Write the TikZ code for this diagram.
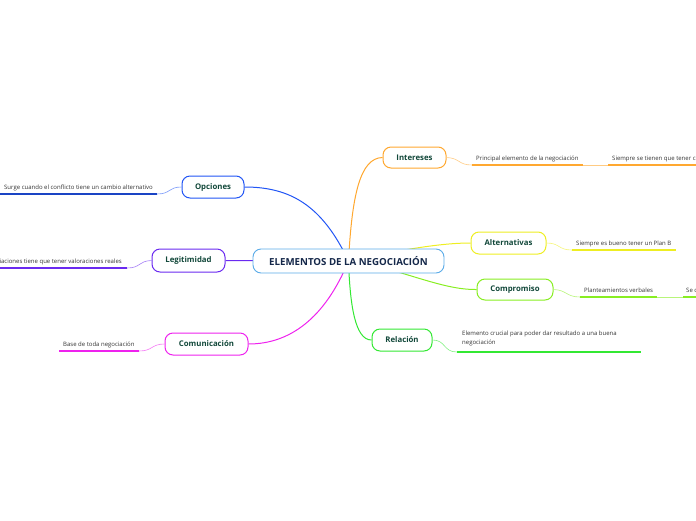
\documentclass[tikz,border=0pt]{standalone}
\usepackage{fontspec}
\setmainfont{Open Sans}
\usetikzlibrary{backgrounds}
\definecolor{cblue}{HTML}{2155F5}
\definecolor{cpurple}{HTML}{6A2AF0}
\definecolor{cmag}{HTML}{EE22EE}
\definecolor{corange}{HTML}{FFA830}
\definecolor{cyellow}{HTML}{EEEE22}
\definecolor{clime}{HTML}{88EE22}
\definecolor{cgreen}{HTML}{33E833}
\definecolor{ccenter}{HTML}{5AABE8}
\definecolor{btext}{HTML}{12483A}
\definecolor{ctext}{HTML}{15284A}
\definecolor{ltext}{HTML}{333333}
\tikzset{
  x=1pt,y=-1pt,
  centerbox/.style={draw=ccenter,line width=0.9pt,rounded corners=8pt,fill=white,minimum width=191pt,minimum height=24pt,inner sep=0pt,text=ctext,font=\fontsize{9.7}{11}\selectfont\bfseries},
  branch/.style={draw=#1,line width=1pt,rounded corners=8pt,fill=white,minimum height=22pt,inner sep=0pt,text=btext,font=\fontsize{7.8}{9}\selectfont\bfseries},
  leaf/.style={anchor=base west,inner sep=0pt,text=ltext,font=\fontsize{6}{7}\selectfont},
  conn/.style={draw=#1,line width=1pt},
  lconn/.style={draw=#1!60,line width=0.6pt},
  uline/.style={draw=#1,line width=1.4pt}
}
\begin{document}
\begin{tikzpicture}
\useasboundingbox (0,0) rectangle (696,520);
\clip (0,0) rectangle (696,520);
% central and branch nodes
\node[centerbox] (ctr) at (348.5,261) {ELEMENTOS DE LA NEGOCIACIÓN};
\node[branch=cblue,minimum width=62pt] (opc) at (213,187) {Opciones};
\node[branch=cpurple,minimum width=73pt,minimum height=23pt] (leg) at (188.5,260.5) {Legitimidad};
\node[branch=cmag,minimum width=83pt] (com) at (206.5,344) {Comunicación};
\node[branch=corange,minimum width=63pt,minimum height=21pt] (int) at (414.5,157.5) {Intereses};
\node[branch=cyellow,minimum width=75pt] (alt) at (508.5,243) {Alternativas};
\node[branch=clime,minimum width=76pt,minimum height=21pt] (cmp) at (515,289.5) {Compromiso};
\node[branch=cgreen,minimum width=60pt] (rel) at (402,340) {Relación};
% leaf texts
\node[leaf] (l1) at (4,189) {Surge cuando el conflicto tiene un cambio alternativo};
\node[leaf,anchor=base east] (l2) at (122,263) {Las negociaciones tiene que tener valoraciones reales};
\node[leaf] (l3) at (63,346) {Base de toda negociación};
\node[leaf] (l4) at (476,160) {Principal elemento de la negociación};
\node[leaf] (l5) at (612,160) {Siempre se tienen que tener claro};
\node[leaf] (l6) at (576,245) {Siempre es bueno tener un Plan B};
\node[leaf] (l7) at (584,292) {Planteamientos verbales};
\node[leaf] (l8) at (686,292) {Se cumplen};
\node[leaf,align=left,anchor=north west,font=\fontsize{6}{9}\selectfont] (l9) at (462,331) {Elemento crucial para poder dar resultado a una buena\\negociación};
% underline end points
\coordinate (u1a) at (157,194); \coordinate (u1b) at (0,194);
\coordinate (u2a) at (127,268); \coordinate (u2b) at (0,268);
\coordinate (u3a) at (139,351); \coordinate (u3b) at (59,351);
\coordinate (u4a) at (472,165); \coordinate (u4b) at (583,165);
\coordinate (u5a) at (608,165); \coordinate (u5b) at (696,165);
\coordinate (u6a) at (572,250); \coordinate (u6b) at (676,250);
\coordinate (u7a) at (580,297); \coordinate (u7b) at (657,297);
\coordinate (u8a) at (683,297); \coordinate (u8b) at (696,297);
\coordinate (u9a) at (457,352); \coordinate (u9b) at (641,352);
\begin{scope}[on background layer]
\draw[conn=cblue] (ctr.center) .. controls (322,205) and (290,187) .. (opc.east);
\draw[conn=cpurple] (ctr.center) -- (leg.east);
\draw[conn=cmag] (ctr.center) .. controls (325,318) and (290,344) .. (com.east);
\draw[conn=corange] (ctr.center) .. controls (352,195) and (360,158) .. (int.west);
\draw[conn=cyellow] (ctr.center) .. controls (400,250) and (440,243) .. (alt.west);
\draw[conn=clime] (ctr.center) .. controls (400,268) and (440,290) .. (cmp.west);
\draw[conn=cgreen] (ctr.center) .. controls (350,305) and (355,340) .. (rel.west);
\end{scope}
% leaf connectors
\draw[lconn=cblue] (opc.west) .. controls (168,187) and (171,194) .. (u1a);
\draw[uline=cblue!80!black] (u1a) -- (u1b);
\draw[lconn=cpurple] (leg.west) .. controls (138,261) and (141,268) .. (u2a);
\draw[uline=cpurple] (u2a) -- (u2b);
\draw[lconn=cmag] (com.west) .. controls (151,344) and (153,351) .. (u3a);
\draw[uline=cmag] (u3a) -- (u3b);
\draw[lconn=corange] (int.east) .. controls (460,158) and (458,165) .. (u4a);
\draw[uline=corange] (u4a) -- (u4b);
\draw[lconn=corange] (u4b) -- (u5a);
\draw[uline=corange] (u5a) -- (u5b);
\draw[lconn=cyellow] (alt.east) .. controls (560,243) and (558,250) .. (u6a);
\draw[uline=cyellow] (u6a) -- (u6b);
\draw[lconn=clime] (cmp.east) .. controls (567,290) and (566,297) .. (u7a);
\draw[uline=clime] (u7a) -- (u7b);
\draw[lconn=clime] (u7b) -- (u8a);
\draw[uline=clime] (u8a) -- (u8b);
\draw[lconn=cgreen] (rel.east) .. controls (446,340) and (443,352) .. (u9a);
\draw[uline=cgreen] (u9a) -- (u9b);
\end{tikzpicture}
\end{document}
